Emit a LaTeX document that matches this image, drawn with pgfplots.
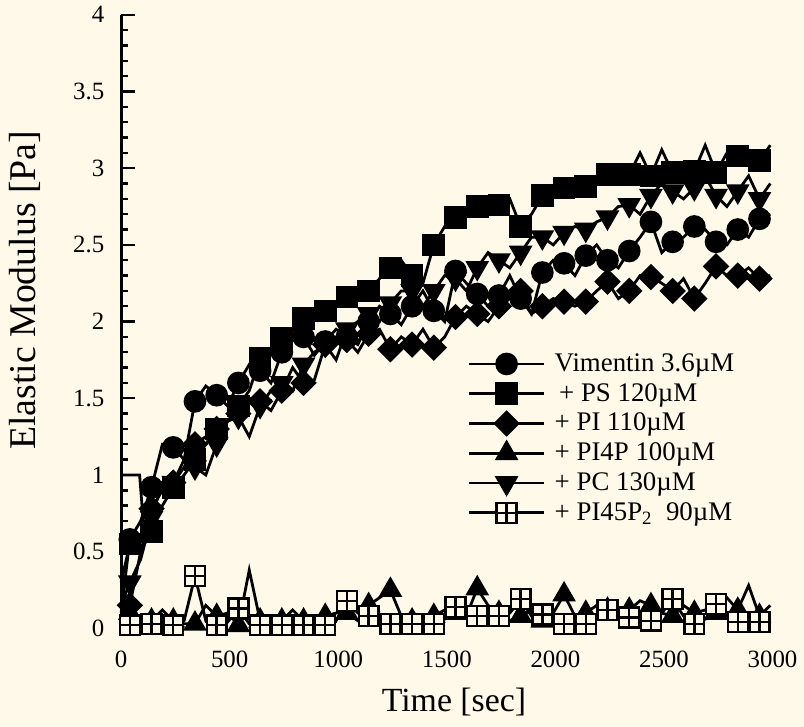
\documentclass[border=0pt]{standalone}
\usepackage{fontspec}
\setmainfont{Liberation Serif}
\usepackage{xcolor}
\usepackage{pgfplots}
\usepackage{pgfplotstable}
\pgfplotsset{compat=1.18}
\usetikzlibrary{plotmarks,backgrounds}
\definecolor{cream}{RGB}{254,249,232}

% square with a cross inside (PI45P2)
\pgfdeclareplotmark{boxplus}{%
  \pgfpathrectangle{\pgfqpoint{-\pgfplotmarksize}{-\pgfplotmarksize}}{\pgfqpoint{2\pgfplotmarksize}{2\pgfplotmarksize}}%
  \pgfusepathqfillstroke
  \pgfpathmoveto{\pgfqpoint{-\pgfplotmarksize}{0pt}}\pgfpathlineto{\pgfqpoint{\pgfplotmarksize}{0pt}}%
  \pgfpathmoveto{\pgfqpoint{0pt}{-\pgfplotmarksize}}\pgfpathlineto{\pgfqpoint{0pt}{\pgfplotmarksize}}%
  \pgfusepathqstroke
}

% t V(vimentin) S(PS) D(PI) A(PI4P) C(PC) B(PI45P2)
\pgfplotstableread{
t    V    S    D    A    C    B
0    0.10 0.30 0.05 0.20 0.15 0.02
40   0.58 0.55 0.15 0.10 0.30 0.02
90   0.70 0.60 0.50 0.05 0.45 0.03
140  0.92 0.63 0.78 0.05 0.72 0.03
190  1.20 0.80 0.90 0.12 0.95 0.02
240  1.18 0.92 0.95 0.05 0.95 0.02
290  1.10 1.00 1.05 0.03 1.10 0.05
340  1.48 1.10 1.20 0.03 1.05 0.34
390  1.58 1.20 1.25 0.15 1.00 0.05
440  1.52 1.30 1.30 0.08 1.20 0.02
490  1.45 1.35 1.35 0.10 1.35 0.04
540  1.60 1.45 1.40 0.02 1.38 0.13
590  1.72 1.55 1.50 0.38 1.25 0.03
640  1.68 1.76 1.48 0.05 1.45 0.02
690  1.60 1.80 1.42 0.08 1.55 0.05
740  1.80 1.89 1.55 0.05 1.60 0.02
790  1.95 1.95 1.70 0.12 1.55 0.03
840  1.90 2.02 1.60 0.05 1.72 0.02
890  1.78 2.05 1.62 0.05 1.80 0.04
940  1.87 2.07 1.85 0.08 1.85 0.02
990  1.95 2.10 1.90 0.10 1.75 0.05
1040 1.90 2.16 1.88 0.10 1.95 0.18
1090 1.85 2.18 1.80 0.05 2.00 0.10
1140 2.00 2.20 1.92 0.15 2.05 0.08
1190 2.10 2.28 1.95 0.20 2.00 0.05
1240 2.05 2.35 1.82 0.25 2.12 0.03
1290 1.98 2.40 1.90 0.08 2.20 0.03
1340 2.10 2.30 1.85 0.05 2.20 0.03
1390 2.20 2.25 1.95 0.05 2.10 0.04
1440 2.07 2.50 1.83 0.08 2.20 0.03
1490 2.00 2.62 1.90 0.12 2.30 0.06
1540 2.33 2.68 2.03 0.10 2.28 0.14
1590 2.25 2.72 2.10 0.08 2.20 0.08
1640 2.18 2.75 2.05 0.26 2.35 0.08
1690 2.10 2.70 2.00 0.15 2.45 0.10
1740 2.17 2.76 2.10 0.10 2.40 0.08
1790 2.30 2.80 2.15 0.05 2.35 0.10
1840 2.15 2.62 2.20 0.08 2.45 0.19
1890 2.05 2.70 2.05 0.12 2.55 0.08
1940 2.32 2.82 2.10 0.05 2.55 0.09
1990 2.40 2.85 2.15 0.10 2.50 0.04
2040 2.38 2.87 2.13 0.22 2.58 0.03
2090 2.30 2.85 2.10 0.08 2.62 0.03
2140 2.43 2.88 2.13 0.10 2.60 0.03
2190 2.50 2.95 2.20 0.15 2.65 0.06
2240 2.40 2.96 2.26 0.12 2.68 0.12
2290 2.35 3.00 2.15 0.10 2.75 0.08
2340 2.46 2.96 2.20 0.12 2.76 0.07
2390 2.55 3.10 2.30 0.18 2.70 0.05
2440 2.65 2.95 2.29 0.15 2.82 0.05
2490 2.45 3.12 2.25 0.10 2.90 0.10
2540 2.52 2.97 2.20 0.08 2.85 0.19
2590 2.55 3.00 2.28 0.15 2.80 0.08
2640 2.62 2.98 2.15 0.10 2.87 0.03
2690 2.60 3.15 2.25 0.12 2.95 0.06
2740 2.52 2.97 2.36 0.10 2.82 0.16
2790 2.50 3.10 2.30 0.20 2.75 0.08
2840 2.60 3.08 2.30 0.12 2.85 0.04
2890 2.55 3.10 2.35 0.28 2.95 0.04
2940 2.67 3.05 2.28 0.08 2.80 0.04
2990 2.70 3.15 2.30 0.15 2.90 0.04
}\modulus

\begin{document}
\begin{tikzpicture}[background rectangle/.style={fill=cream}, show background rectangle, inner frame sep=0pt]
\begin{axis}[
    scale only axis,
    width=327.5pt, height=308.5pt,
    xmin=0, xmax=3000, ymin=0, ymax=4,
    clip=false,
    axis x line=bottom, axis y line=left,
    x axis line style={draw=none},
    y axis line style={-, line width=1.4pt},
    xtick={0,500,...,3000},
    ytick={0,0.5,...,4},
    minor y tick num=4,
    tick align=inside,
    major x tick style={draw=none},
    major y tick style={line width=1.2pt, black},
    minor y tick style={line width=1.2pt, black},
    major tick length=7pt, minor tick length=3.5pt,
    scaled x ticks=false,
    /pgf/number format/1000 sep={},
    /pgf/number format/assume math mode=true,
    tick label style={font=\fontsize{12.5}{12.5}\selectfont},
    xticklabel style={yshift=-8pt},
    yticklabel style={xshift=-5pt},
    xlabel={Time [sec]}, ylabel={Elastic Modulus [Pa]},
    xlabel style={font=\fontsize{17}{17}\selectfont, at={(axis description cs:0.511,-0.12)}, anchor=center},
    ylabel style={font=\fontsize{19}{19}\selectfont, at={(axis description cs:-0.147,0.551)}, anchor=center},
    legend style={draw=none, fill=none, at={(axis description cs:0.531,0.455)}, anchor=north west,
        font=\fontsize{13.5}{13.5}\selectfont, row sep=0.5pt, inner sep=0pt,
        /tikz/every odd column/.append style={column sep=2.5pt}},
    legend cell align=left,
    legend image code/.code={\draw[mark repeat=2,mark phase=2,#1] plot coordinates {(0pt,0pt)(19pt,0pt)(38pt,0pt)};},
    every axis plot/.append style={black, line width=1.4pt, mark repeat=2, mark phase=2},
]
\addplot[mark=*, mark size=5pt, mark options={fill=black}] table[x=t,y=V]{\modulus};
\addplot[mark=square*, mark size=5pt, mark options={fill=black}] table[x=t,y=S]{\modulus};
\addplot[mark=square*, mark size=4pt, mark options={fill=black, rotate=45}] table[x=t,y=D]{\modulus};
\addplot[mark=triangle*, mark size=5.5pt, mark options={fill=black}] table[x=t,y=A]{\modulus};
\addplot[mark=triangle*, mark size=5.5pt, mark options={fill=black, rotate=180}] table[x=t,y=C]{\modulus};
\addplot[mark=boxplus, mark size=5pt, mark options={fill=cream, line width=1.2pt}] table[x=t,y=B]{\modulus};
\addplot[forget plot, no marks] coordinates {(0,1.0) (85,1.0) (110,0.55)};
\legend{Vimentin 3.6µM, {\,+ PS 120µM}, + PI 110µM, + PI4P 100µM, + PC 130µM, + PI45P\textsubscript{2}\ \ 90µM}
\path (rel axis cs:-0.186,-0.160) rectangle (rel axis cs:1.041,1.024);
\end{axis}
\end{tikzpicture}
\end{document}
